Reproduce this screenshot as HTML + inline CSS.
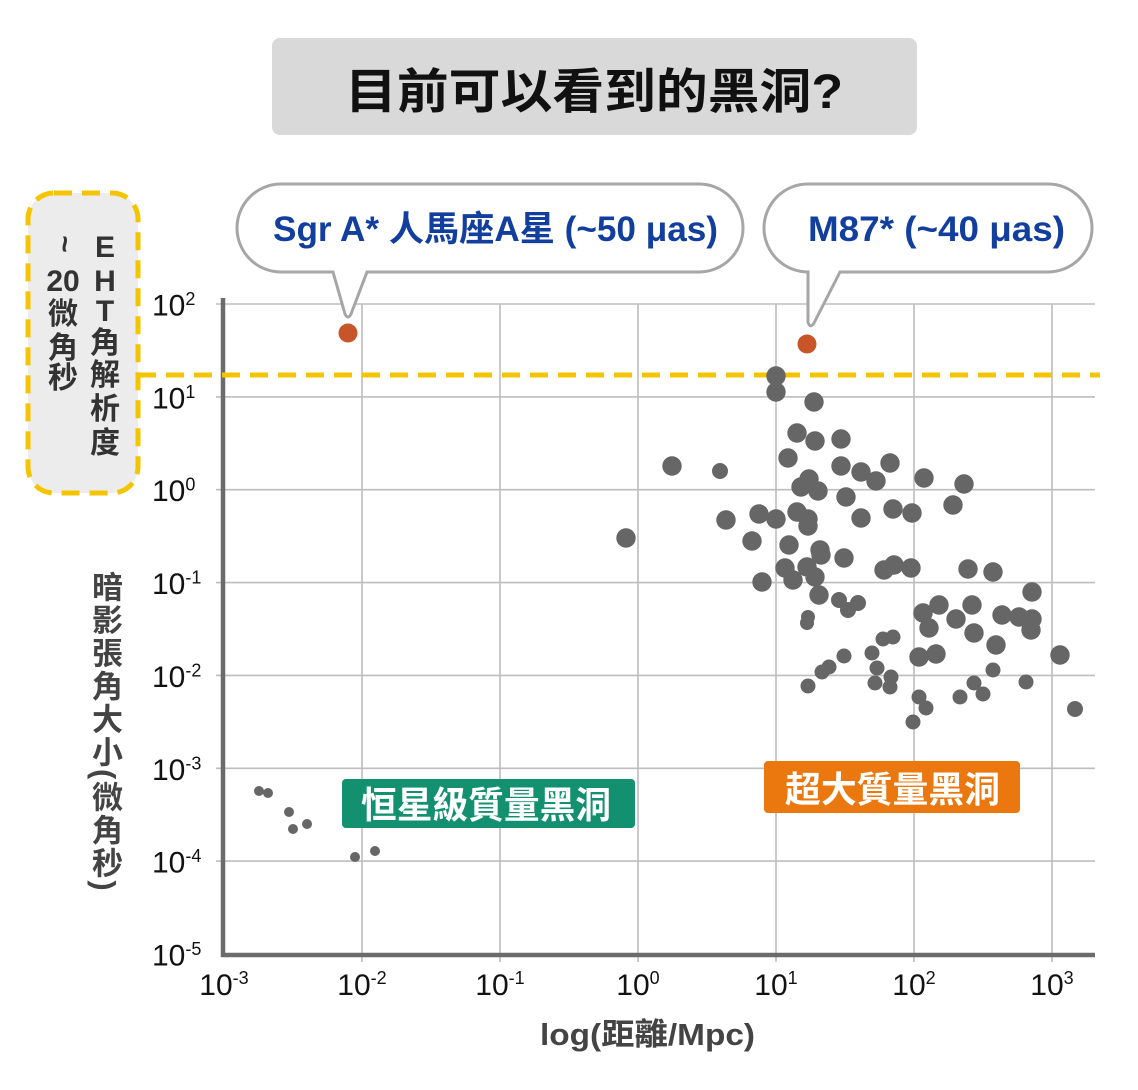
<!DOCTYPE html>
<html><head><meta charset="utf-8">
<style>
html,body{margin:0;padding:0;background:#fff;}
#wrap{position:relative;width:1138px;height:1090px;overflow:hidden;}
svg{position:absolute;left:0;top:0;}
.ylab{position:absolute;left:89px;top:571px;writing-mode:vertical-rl;text-orientation:mixed;font-family:"Liberation Sans","Noto Sans CJK TC",sans-serif;font-weight:bold;font-size:31px;line-height:31px;letter-spacing:2px;color:#444;white-space:nowrap;}
</style></head>
<body><div id="wrap">
<svg width="1138" height="1090" viewBox="0 0 1138 1090" xmlns="http://www.w3.org/2000/svg" font-family="Liberation Sans, Noto Sans CJK TC, sans-serif">
<rect width="1138" height="1090" fill="#fff"/>
<rect x="272" y="38" width="645" height="97" rx="8" fill="#d9d9d9"/>
<text x="594" y="108" text-anchor="middle" font-size="48" font-weight="bold" fill="#111" textLength="498" lengthAdjust="spacingAndGlyphs">目前可以看到的黑洞?</text>
<path d="M216 304H1095M216 396.9H1095M216 489.7H1095M216 582.6H1095M216 675.4H1095M216 768.3H1095M216 861.1H1095M362 304V962M500 304V962M638 304V962M776 304V962M914 304V962M1052 304V962" stroke="#bdbdbd" stroke-width="1.6" fill="none"/>
<path d="M223 298V957M221 955H1095" stroke="#6b6b6b" stroke-width="4.5" fill="none"/>
<rect x="28" y="193" width="110" height="300" rx="26" fill="#ececec" stroke="#f5c400" stroke-width="5" stroke-dasharray="18 10"/>
<line x1="138" y1="375" x2="1100" y2="375" stroke="#f5c400" stroke-width="5" stroke-dasharray="18 10"/>
<g font-size="30" font-weight="bold" fill="#333" text-anchor="middle">
<text x="105" y="257">E</text>
<text x="105" y="291">H</text>
<text x="105" y="321">T</text>
<text x="105" y="353">角</text>
<text x="105" y="385">解</text>
<text x="105" y="419">析</text>
<text x="105" y="453">度</text>
<text x="63" y="244" transform="rotate(90 63 244)" dy="8">~</text>
<text x="63" y="291">20</text>
<text x="63" y="324">微</text>
<text x="63" y="358">角</text>
<text x="63" y="388">秒</text>
</g>
<g font-size="30" fill="#111">
<text x="152" y="315.5">10<tspan dy="-10.5" font-size="18">2</tspan></text>
<text x="152" y="408.4">10<tspan dy="-10.5" font-size="18">1</tspan></text>
<text x="152" y="501.2">10<tspan dy="-10.5" font-size="18">0</tspan></text>
<text x="152" y="594.1">10<tspan dy="-10.5" font-size="18">-1</tspan></text>
<text x="152" y="686.9">10<tspan dy="-10.5" font-size="18">-2</tspan></text>
<text x="152" y="779.8">10<tspan dy="-10.5" font-size="18">-3</tspan></text>
<text x="152" y="872.6">10<tspan dy="-10.5" font-size="18">-4</tspan></text>
<text x="152" y="965.5">10<tspan dy="-10.5" font-size="18">-5</tspan></text>
</g>
<g font-size="30" fill="#111" text-anchor="middle">
<text x="224" y="995">10<tspan dy="-11" font-size="18">-3</tspan></text>
<text x="362" y="995">10<tspan dy="-11" font-size="18">-2</tspan></text>
<text x="500" y="995">10<tspan dy="-11" font-size="18">-1</tspan></text>
<text x="638" y="995">10<tspan dy="-11" font-size="18">0</tspan></text>
<text x="776" y="995">10<tspan dy="-11" font-size="18">1</tspan></text>
<text x="914" y="995">10<tspan dy="-11" font-size="18">2</tspan></text>
<text x="1052" y="995">10<tspan dy="-11" font-size="18">3</tspan></text>
</g>
<text x="540" y="1045" font-size="31" font-weight="bold" fill="#444" textLength="215" lengthAdjust="spacingAndGlyphs">log(距離/Mpc)</text>
<path d="M281 184 H699 A44 44 0 0 1 699 272 H367 L351 314 Q348 320 345 314 L333 272 H281 A44 44 0 0 1 281 184 Z" fill="#fff" stroke="#a6a6a6" stroke-width="3"/>
<text x="273" y="241" font-size="35" font-weight="bold" fill="#123e9e" textLength="445" lengthAdjust="spacingAndGlyphs">Sgr A* 人馬座A星 (~50 μas)</text>
<path d="M808 184 H1048 A44 44 0 0 1 1048 272 H840 L814 323 Q810 329 808 322 L808 272 A44 44 0 0 1 808 184 Z" fill="#fff" stroke="#a6a6a6" stroke-width="3"/>
<text x="808" y="241" font-size="35" font-weight="bold" fill="#123e9e" textLength="257" lengthAdjust="spacingAndGlyphs">M87* (~40 μas)</text>
<path d="M348 333h0M807 344h0" stroke="#c8552a" stroke-width="19" stroke-linecap="round" fill="none"/>
<rect x="342" y="779" width="293" height="49" rx="4" fill="#13906f"/>
<text x="361" y="818" font-size="37" font-weight="bold" fill="#fff" textLength="250" lengthAdjust="spacingAndGlyphs">恒星級質量黑洞</text>
<rect x="764" y="761" width="256" height="52" rx="4" fill="#ea780e"/>
<text x="785" y="802" font-size="36" font-weight="bold" fill="#fff" textLength="215" lengthAdjust="spacingAndGlyphs">超大質量黑洞</text>
<path d="M259 791h0M268 793h0M289 812h0M293 829h0M307 824h0M355 857h0M375 851h0" stroke="#666" stroke-width="10" stroke-linecap="round" fill="none"/>
<path d="M776 376h0M776 392h0M814 402h0M797 433h0M815 441h0M841 439h0M672 466h0M788 458h0M841 466h0M861 472h0M876 481h0M890 463h0M924 478h0M964 484h0M809 479h0M801 487h0M818 491h0M846 497h0M893 509h0M912 513h0M953 505h0M861 518h0M726 520h0M759 514h0M776 519h0M797 512h0M808 519h0M808 526h0M626 538h0M752 541h0M789 545h0M820 550h0M821 555h0M844 558h0M762 582h0M785 568h0M793 580h0M807 567h0M815 577h0M819 595h0M884 570h0M894 565h0M911 568h0M968 569h0M993 572h0M1032 592h0M939 605h0M972 605h0M923 613h0M929 628h0M956 619h0M974 633h0M1002 615h0M1019 617h0M1032 619h0M1031 630h0M996 645h0M1060 655h0M919 657h0M936 654h0" stroke="#666" stroke-width="19.4" stroke-linecap="round" fill="none"/>
<path d="M720 471h0M839 600h0M848 610h0M858 603h0M1075 709h0" stroke="#666" stroke-width="16" stroke-linecap="round" fill="none"/>
<path d="M883 639h0M893 637h0M872 653h0M844 656h0M829 667h0M822 672h0M808 686h0M877 668h0M891 677h0M875 683h0M890 687h0M993 670h0M974 683h0M983 694h0M960 697h0M1026 682h0M919 697h0M926 708h0M913 722h0" stroke="#666" stroke-width="15" stroke-linecap="round" fill="none"/>
<path d="M808 617h0M807 623h0" stroke="#666" stroke-width="14" stroke-linecap="round" fill="none"/>
</svg>
<div class="ylab">暗影張角大小(微角秒)</div>
</div></body></html>
